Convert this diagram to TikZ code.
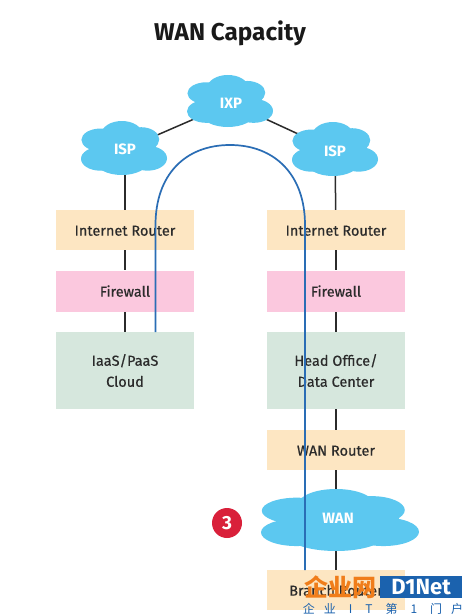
\documentclass[tikz,border=0pt]{standalone}
\usepackage{fontspec}
\setmainfont{Fira Sans}
\newfontfamily\medf{Fira Sans}[FakeBold=0.5]
\newfontfamily\cjkf{Noto Sans CJK SC}
\usetikzlibrary{backgrounds}
\definecolor{peach}{HTML}{FDE6C2}
\definecolor{pinkb}{HTML}{FBC8DE}
\definecolor{greenb}{HTML}{D6E7DD}
\definecolor{cloudc}{HTML}{5CC8F0}
\definecolor{bluel}{HTML}{2A6DB5}
\definecolor{redc}{HTML}{D9203A}
\definecolor{dark}{HTML}{2B2B2B}
\definecolor{orangew}{HTML}{F07D1A}
\definecolor{bluew}{HTML}{1B62AE}
\tikzset{
 boxn/.style={minimum width=138pt,inner sep=0pt,align=center,font=\fontsize{14.5}{21}\selectfont\medf,text=dark},
 cloudlabel/.style={text=white,font=\fontsize{15}{16}\selectfont\bfseries,inner sep=0pt},
 link/.style={draw=dark,line width=1.5pt},
 route/.style={draw=bluel,line width=1.7pt},
}
\newcommand{\lo}{\rule{0pt}{11.5pt}}
\newcommand{\lump}[4]{\fill[cloudc] (#1,#2) ellipse [x radius=#3,y radius=#4];}
% centre x,y ; half-width, half-height (positive y is down the page)
\newcommand{\cloudshape}[4]{%
 \begin{scope}[shift={(#1,#2)},x=#3pt,y=-#4pt]
  \fill[cloudc] (-.7,-.5) rectangle (.75,.7);
  \lump{-.55}{-.30}{.44}{.42}\lump{-.05}{-.50}{.48}{.50}\lump{.40}{-.32}{.42}{.45}
  \lump{-.55}{.40}{.45}{.44}\lump{-.05}{.48}{.62}{.52}\lump{.55}{.38}{.45}{.46}
 \end{scope}}
\begin{document}
\begin{tikzpicture}[x=1pt,y=-1pt]
\useasboundingbox (0,0) rectangle (462,615);
\node[font=\fontsize{24.3}{26}\selectfont\bfseries,text=black!90] (title) at (230,33) {WAN Capacity};
% boxes
\node[boxn,fill=peach,minimum height=40pt] (irl) at (125,230) {\lo Internet Router};
\node[boxn,fill=pinkb,minimum height=41pt] (fwl) at (125,291) {\lo Firewall};
\node[boxn,fill=greenb,minimum height=77pt] (cloudbox) at (125,370.5) {\lo IaaS/PaaS\\Cloud};
\node[boxn,fill=peach,minimum height=40pt] (irr) at (336,230) {\lo Internet Router};
\node[boxn,fill=pinkb,minimum height=41pt] (fwr) at (336,291) {\lo Firewall};
\node[boxn,fill=greenb,minimum height=77pt] (hq) at (336,370.5) {\lo Head Office/\\Data Center};
\node[boxn,fill=peach,minimum height=40pt] (wr) at (336,450) {\lo WAN Router};
\node[boxn,fill=peach,minimum height=40pt] (br) at (336,590) {\lo Branch Router};
% cloud labels
\node[cloudlabel] (ixp) at (231,103) {IXP};
\node[cloudlabel] (ispl) at (125,149) {ISP};
\node[cloudlabel] (ispr) at (335,151) {ISP};
\node[cloudlabel] (wan) at (338,518) {WAN};
\begin{scope}[on background layer]
 \fill[white] (0,0) rectangle (462,615);
 \draw[link] (ixp) -- (ispl);
 \draw[link] (ixp) -- (ispr);
 \draw[link] (ispl) -- (irl);
 \draw[link] (irl) -- (fwl);
 \draw[link] (fwl) -- (cloudbox);
 \draw[link] (ispr.south) -- (irr);
 \draw[link] (irr) -- (fwr);
 \draw[link] (fwr) -- (hq);
 \draw[link] (hq) -- (wr);
 \draw[link] (wr.south) -- (wr.south |- wan.north);
 \draw[link] (wr.south |- wan.south) -- (br.north);
 \cloudshape{230}{101}{43}{26}
 \cloudshape{124}{148}{43}{27}
 \cloudshape{335}{149}{43}{27}
 \cloudshape{340}{520}{79}{31}
\end{scope}
% route
\coordinate (rs) at (155.5,332);
\coordinate (re) at (305,570);
\draw[route] (rs) -- (155.5,225) .. controls (155.5,175) and (185,145) .. (230,145)
  .. controls (275,145) and (305,175) .. (305,225) -- (re);
% badge
\node[circle,fill=redc,minimum size=30pt,inner sep=0pt,text=white,font=\fontsize{19}{20}\selectfont\bfseries] (badge) at (227,523) {3};
% watermark
\node[inner sep=0pt,text=orangew,font=\cjkf\fontsize{24}{24}\selectfont\bfseries] (wm1) at (340,587) {企业网};
\node[fill=bluew,text=white,inner sep=0pt,minimum width=82pt,minimum height=22pt,font=\fontsize{22}{22}\selectfont\bfseries] (wm2) at (421,587) {D1Net};
\node[inner sep=0pt,text=bluew,font=\cjkf\fontsize{12}{12}\selectfont] (wm3) at (383,609) {企\hspace{9pt}业\hspace{13pt}I\hspace{13pt}T\hspace{13pt}第\hspace{13pt}1\hspace{13pt}门\hspace{9pt}户};
\end{tikzpicture}
\end{document}
